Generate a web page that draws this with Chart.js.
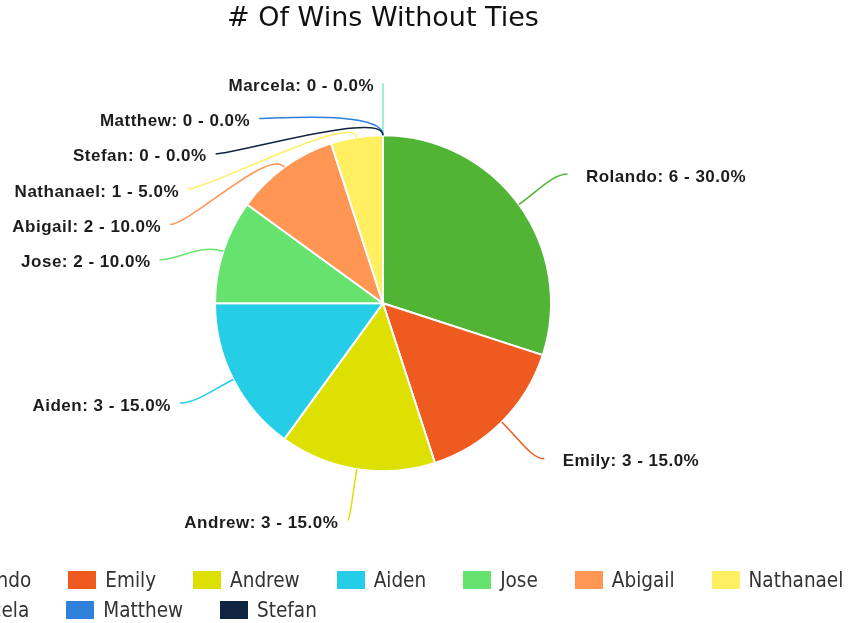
<!DOCTYPE html>
<html>
<head>
<meta charset="utf-8">
<script src="https://cdn.jsdelivr.net/npm/chart.js@4"></script>
<style>
html, body { margin:0; padding:0; background:#fff; overflow:hidden; width:850px; height:623px; }
#wrap { position:absolute; left:-87px; top:0; width:940px; height:623px; }
#legend { position:absolute; left:-80px; top:565px; width:1000px; display:flex; flex-wrap:wrap;
  font:20.5px "DejaVu Sans Condensed", "DejaVu Sans", sans-serif; color:#333; line-height:30px; }
.item { display:flex; align-items:center; margin-right:37px; white-space:nowrap; }
.box { width:28px; height:18px; margin-right:9px; }
</style>
</head>
<body>
<div id="wrap"><canvas id="c" width="940" height="623"></canvas></div>
<div id="legend"></div>
<script>
// data
const players = ["Rolando","Emily","Andrew","Aiden","Jose","Abigail","Nathanael","Marcela","Matthew","Stefan"];
const wins    = [6, 3, 3, 3, 2, 2, 1, 0, 0, 0];
const colors  = ["#52b435","#ee5a1f","#dde000","#26cde6","#66e36f","#ff9654","#ffef61","#7be8c9","#2f80da","#0e2440"];
const chartTitle = "# Of Wins Without Ties";

const total = wins.reduce((a,b)=>a+b, 0);
function labelText(i){ return `${players[i]}: ${wins[i]} - ${(wins[i]/total*100).toFixed(1)}%`; }

// labels outside the pie (on an ellipse around it), with curved leader lines
const outsideLabels = {
  id: "outsideLabels",
  afterDatasetsDraw(chart){
    const ctx = chart.ctx;
    const arcs = chart.getDatasetMeta(0).data;
    const items = arcs.map((arc, i)=>{
      const p = arc.getProps(["x","y","startAngle","endAngle","outerRadius"], true);
      const mid = (p.startAngle + p.endAngle) / 2;
      const cos = Math.cos(mid), sin = Math.sin(mid);
      const rx = p.outerRadius + 60, ry = p.outerRadius + 52;
      return { i, cx:p.x, cy:p.y, rx, ry, cos, sin,
        ex: p.x + cos*p.outerRadius, ey: p.y + sin*p.outerRadius,
        lx: p.x + cos*rx, ly: p.y + sin*ry, left: cos < 0.001 };
    });

    // push crowded left labels downwards, keep them on the ellipse
    const left = items.filter(d=>d.left).sort((a,b)=>a.ly - b.ly);
    let prev = -Infinity;
    left.forEach(d=>{
      const y = Math.max(d.ly, prev + 35.3);
      if (y > d.ly + 0.5){
        const t = (y - d.cy) / d.ry;
        d.lx = d.cx - d.rx * Math.sqrt(Math.max(0, 1 - t*t));
      }
      d.ly = y; prev = y;
    });

    ctx.save();
    items.forEach(d=>{
      const c1x = d.ex + d.cos*25, c1y = d.ey + d.sin*25;
      const off = Math.min(20, Math.abs(d.lx - c1x) * 0.5);
      const c2x = d.lx + (d.left ? off : -off), c2y = d.ly;
      ctx.beginPath();
      ctx.moveTo(d.ex, d.ey);
      ctx.bezierCurveTo(c1x, c1y, c2x, c2y, d.lx, d.ly);
      ctx.strokeStyle = colors[d.i];
      ctx.lineWidth = 1.5;
      ctx.stroke();

      ctx.font = 'bold 17px "Liberation Sans", Arial, sans-serif';
      if ("letterSpacing" in ctx) ctx.letterSpacing = "0.5px";
      ctx.fillStyle = "#1c1c1c";
      ctx.textBaseline = "middle";
      ctx.textAlign = d.left ? "right" : "left";
      ctx.fillText(labelText(d.i), d.left ? d.lx - 9 : d.lx + 18.5, d.ly + 3);
    });
    ctx.restore();
  }
};

new Chart(document.getElementById("c"), {
  type: "pie",
  data: {
    labels: players,
    datasets: [{
      data: wins,
      backgroundColor: colors,
      borderColor: "#ffffff",
      borderWidth: 2,
      hoverOffset: 0
    }]
  },
  options: {
    responsive: false,
    animation: false,
    events: [],
    radius: 168,
    layout: { padding: { top: 0, bottom: 77, left: 0, right: 0 } },
    plugins: {
      legend: { display: false },
      tooltip: { enabled: false },
      title: {
        display: true,
        text: chartTitle,
        color: "#111",
        font: { family: '"DejaVu Sans", sans-serif', size: 27, weight: "normal" },
        padding: { top: 3, bottom: 25 }
      }
    }
  },
  plugins: [outsideLabels]
});

// legend below, rows start on the left like the original
const lg = document.getElementById("legend");
lg.innerHTML = players.map((p,i)=>
  `<div class="item"><span class="box" style="background:${colors[i]}"></span><span>${p}</span></div>`
).join("");
</script>
</body>
</html>
